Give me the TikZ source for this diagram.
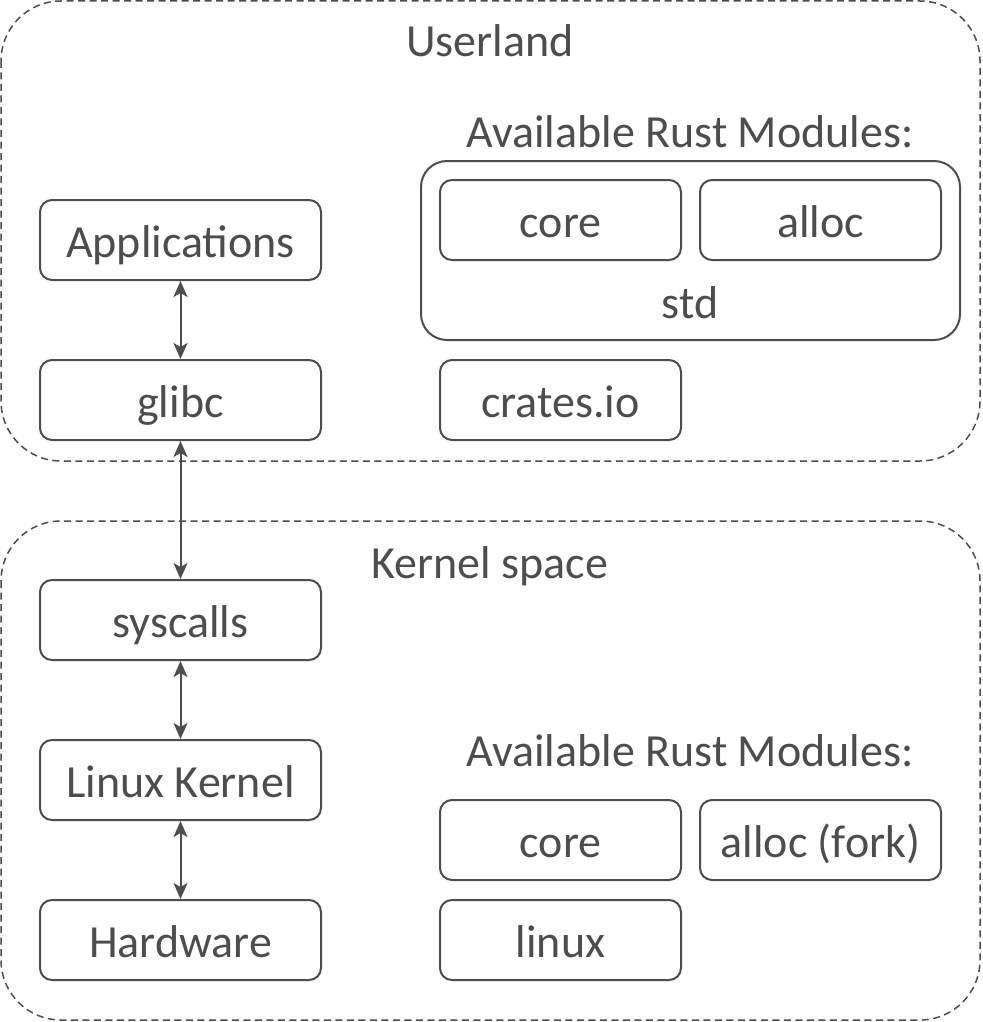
\documentclass[tikz,border=0pt]{standalone}
\usepackage{fontspec}
\setmainfont{Carlito}
\usetikzlibrary{arrows.meta}
\definecolor{ink}{HTML}{4D4D4D}
\tikzset{
  every node/.style={text=ink},
  region/.style={draw=ink, line width=1.5pt, dash pattern=on 7pt off 4.5pt, rounded corners=60pt},
  boxbase/.style={draw=ink, line width=2pt, rounded corners=12pt, minimum height=80pt, font=\fontsize{46}{50}\selectfont, inner sep=0pt, text height=44pt, text depth=10pt},
  modbox/.style={boxbase, minimum width=281pt},
  rbox/.style={boxbase, minimum width=241pt},
  title/.style={font=\fontsize{46}{50}\selectfont, inner sep=0pt, anchor=base},
  link/.style={draw=ink, line width=2pt, {Stealth[length=16pt,width=14pt,inset=4pt]}-{Stealth[length=16pt,width=14pt,inset=4pt]}},
}
\begin{document}
\begin{tikzpicture}[x=1pt,y=-1pt]
\useasboundingbox (0,0) rectangle (982,1022);
% regions
\draw[region] (1,1) rectangle (980,461);
\draw[region] (1,521) rectangle (980,1020);
\node[title] (userland) at (490,57) {Userland};
\node[title] (kernel) at (490,578) {Kernel space};
\node[title] (avu) at (690,147) {Available Rust Modules:};
\node[title] (avk) at (690,766) {Available Rust Modules:};
% std container
\draw[draw=ink, line width=2pt, rounded corners=26pt] (421,161) rectangle (960,340);
\node[title] (std) at (690,318) {std};
% left column
\node[modbox] (app) at (180.5,240) {Applications};
\node[modbox] (glibc) at (180.5,400) {glibc};
\node[modbox] (sys) at (180.5,620) {syscalls};
\node[modbox] (lk) at (180.5,780) {Linux Kernel};
\node[modbox] (hw) at (180.5,940) {Hardware};
% right modules
\node[rbox] (ucore) at (560.5,220) {core};
\node[rbox] (ualloc) at (820.5,220) {alloc};
\node[rbox] (crates) at (560.5,400) {crates.io};
\node[rbox] (kcore) at (560.5,840) {core};
\node[rbox] (kalloc) at (820.5,840) {alloc (fork)};
\node[rbox] (klinux) at (560.5,940) {linux};
% links
\draw[link] (app) -- (glibc);
\draw[link] (glibc) -- (sys);
\draw[link] (sys) -- (lk);
\draw[link] (lk) -- (hw);
\end{tikzpicture}
\end{document}
